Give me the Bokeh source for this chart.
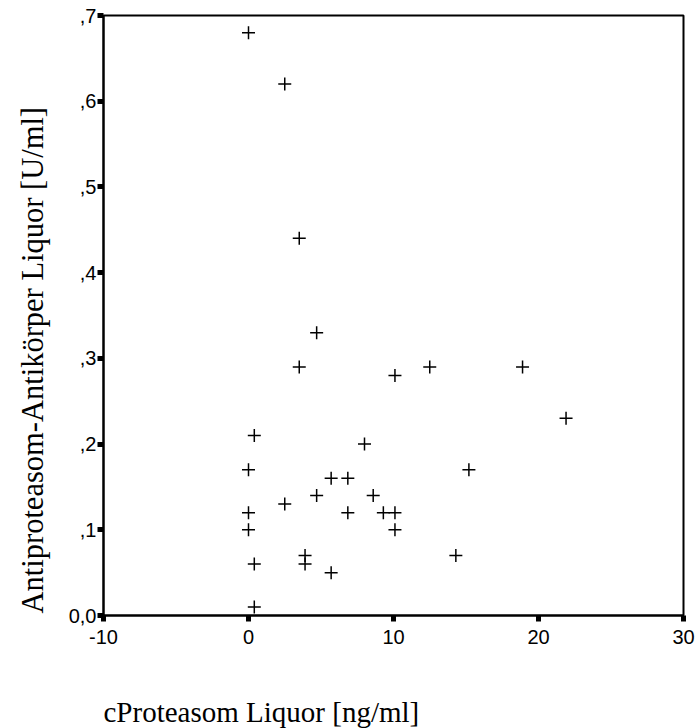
import math

from bokeh.plotting import figure
from bokeh.models import ColumnDataSource, FixedTicker, CustomJSTickFormatter, Label, Range1d
from bokeh.embed import file_html
from bokeh.resources import INLINE

# cProteasom (ng/ml) and anti-proteasome antibody (U/ml) measured in CSF
c_proteasom = [0.0, 2.5, 3.5, 4.7, 3.5, 0.4, 0.0, 5.7, 6.85, 4.7,
               2.5, 0.0, 0.0, 6.85, 0.4, 3.9, 3.9, 5.7, 0.4, 10.1,
               12.5, 18.9, 21.9, 8.0, 15.2, 8.6, 9.3, 10.1, 10.1, 14.3]
antikoerper = [0.68, 0.62, 0.44, 0.33, 0.29, 0.21, 0.17, 0.16, 0.16, 0.14,
               0.13, 0.12, 0.10, 0.12, 0.06, 0.07, 0.06, 0.05, 0.01, 0.28,
               0.29, 0.29, 0.23, 0.20, 0.17, 0.14, 0.12, 0.12, 0.10, 0.07]

x_ticks = [-10, 0, 10, 20, 30]
x_tick_labels = ["-10", "0", "10", "20", "30"]
y_ticks = [0.0, 0.1, 0.2, 0.3, 0.4, 0.5, 0.6, 0.7]
y_tick_labels = ["0,0", ",1", ",2", ",3", ",4", ",5", ",6", ",7"]

x_title = "cProteasom Liquor [ng/ml]"
y_title = "Antiproteasom-Antikörper Liquor [U/ml]"

x_start, x_end = x_ticks[0], x_ticks[-1]
y_start, y_end = y_ticks[0], y_ticks[-1]

source = ColumnDataSource(dict(x=c_proteasom, y=antikoerper))

p = figure(width=697, height=728,
           x_range=Range1d(x_start, x_end), y_range=Range1d(y_start, y_end),
           output_backend="svg", toolbar_location=None,
           min_border_left=103, min_border_right=14,
           min_border_top=15, min_border_bottom=113)

p.background_fill_color = "white"
p.border_fill_color = "white"
p.grid.visible = False
p.outline_line_color = "black"
p.outline_line_width = 2
p.outline_line_alpha = 1.0

p.scatter("x", "y", source=source, marker="cross", size=13,
          line_color="black", line_width=1.5)

lookup = """
let best = 0;
for (let i = 0; i < tvals.length; i++) {
  if (Math.abs(tvals[i] - tick) < Math.abs(tvals[best] - tick)) best = i;
}
return tlabels[best];
"""
p.xaxis.ticker = FixedTicker(ticks=x_ticks)
p.xaxis.formatter = CustomJSTickFormatter(args=dict(tvals=x_ticks, tlabels=x_tick_labels), code=lookup)
p.yaxis.ticker = FixedTicker(ticks=y_ticks)
p.yaxis.formatter = CustomJSTickFormatter(args=dict(tvals=y_ticks, tlabels=y_tick_labels), code=lookup)

for ax in (p.xaxis, p.yaxis):
    ax.axis_line_color = "black"
    ax.axis_line_width = 2
    ax.major_tick_line_color = "black"
    ax.major_tick_line_width = 5
    ax.major_tick_in = 0
    ax.major_tick_out = 6
    ax.minor_tick_line_color = None
    ax.major_label_text_font = "Liberation Sans"
    ax.major_label_text_font_size = "20px"
    ax.major_label_text_color = "black"

p.xaxis.major_label_standoff = 8
p.yaxis.major_label_standoff = 1

# axis titles, anchored at the axes' origin corner and shifted in pixels
p.add_layout(Label(x=x_start, y=y_start, x_offset=0, y_offset=-96,
                   text=x_title, text_font="Liberation Serif",
                   text_font_size="29px", text_color="black",
                   text_align="left", text_baseline="alphabetic"), "below")
p.add_layout(Label(x=x_start, y=y_start, x_offset=-71, y_offset=2,
                   angle=math.pi / 2, text=y_title,
                   text_font="Liberation Serif", text_font_size="30.5px",
                   text_color="black", text_align="left",
                   text_baseline="alphabetic"), "left")

open("out.html", "w").write(file_html(p, INLINE))
